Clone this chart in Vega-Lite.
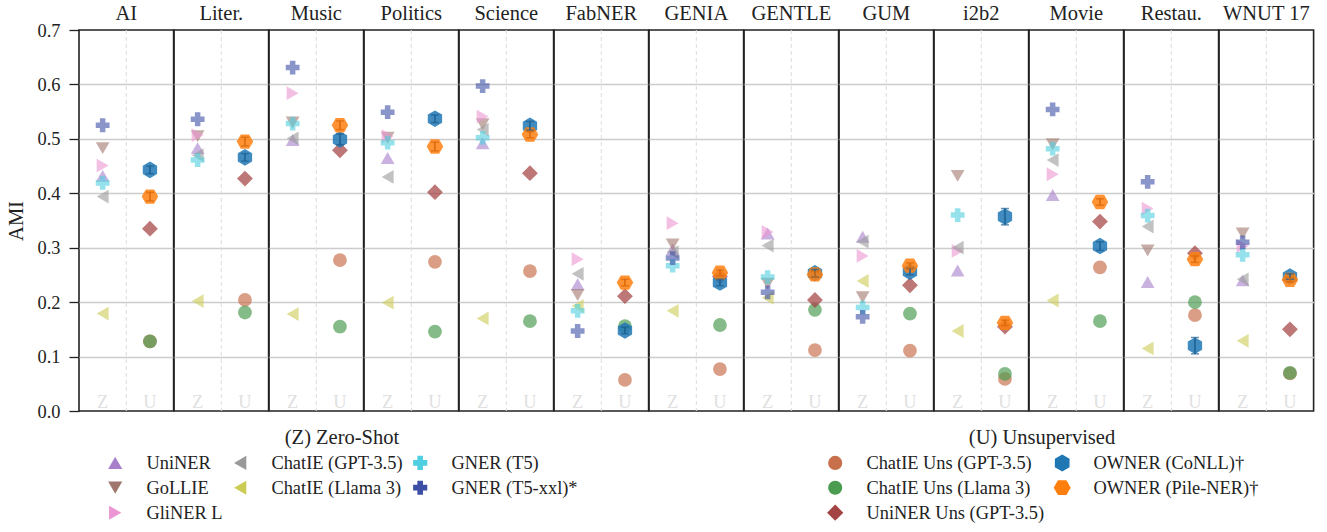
{
  "$schema": "https://vega.github.io/schema/vega-lite/v6.json",
  "padding": {"left": 6, "top": 3, "right": 5, "bottom": 2},
  "background": "white",
  "bounds": "flush",
  "data": {"values": [
    {"dataset":"AI","setting":"Z","model":"UniNER","ami":0.432},
    {"dataset":"AI","setting":"Z","model":"GoLLIE","ami":0.483},
    {"dataset":"AI","setting":"Z","model":"GliNER L","ami":0.451},
    {"dataset":"AI","setting":"Z","model":"ChatIE (GPT-3.5)","ami":0.394},
    {"dataset":"AI","setting":"Z","model":"ChatIE (Llama 3)","ami":0.179},
    {"dataset":"AI","setting":"Z","model":"GNER (T5)","ami":0.419},
    {"dataset":"AI","setting":"Z","model":"GNER (T5-xxl)*","ami":0.525},
    {"dataset":"AI","setting":"U","model":"ChatIE Uns (GPT-3.5)","ami":0.128},
    {"dataset":"AI","setting":"U","model":"ChatIE Uns (Llama 3)","ami":0.128},
    {"dataset":"AI","setting":"U","model":"UniNER Uns (GPT-3.5)","ami":0.335},
    {"dataset":"AI","setting":"U","model":"OWNER (CoNLL)†","ami":0.443,"lo":0.436,"hi":0.450},
    {"dataset":"AI","setting":"U","model":"OWNER (Pile-NER)†","ami":0.394,"lo":0.386,"hi":0.402},

    {"dataset":"Liter.","setting":"Z","model":"UniNER","ami":0.483},
    {"dataset":"Liter.","setting":"Z","model":"GoLLIE","ami":0.505},
    {"dataset":"Liter.","setting":"Z","model":"GliNER L","ami":0.507},
    {"dataset":"Liter.","setting":"Z","model":"ChatIE (GPT-3.5)","ami":0.470},
    {"dataset":"Liter.","setting":"Z","model":"ChatIE (Llama 3)","ami":0.202},
    {"dataset":"Liter.","setting":"Z","model":"GNER (T5)","ami":0.461},
    {"dataset":"Liter.","setting":"Z","model":"GNER (T5-xxl)*","ami":0.536},
    {"dataset":"Liter.","setting":"U","model":"ChatIE Uns (GPT-3.5)","ami":0.204},
    {"dataset":"Liter.","setting":"U","model":"ChatIE Uns (Llama 3)","ami":0.181},
    {"dataset":"Liter.","setting":"U","model":"UniNER Uns (GPT-3.5)","ami":0.427},
    {"dataset":"Liter.","setting":"U","model":"OWNER (CoNLL)†","ami":0.466,"lo":0.459,"hi":0.473},
    {"dataset":"Liter.","setting":"U","model":"OWNER (Pile-NER)†","ami":0.495,"lo":0.487,"hi":0.503},

    {"dataset":"Music","setting":"Z","model":"UniNER","ami":0.498},
    {"dataset":"Music","setting":"Z","model":"GoLLIE","ami":0.530},
    {"dataset":"Music","setting":"Z","model":"GliNER L","ami":0.584},
    {"dataset":"Music","setting":"Z","model":"ChatIE (GPT-3.5)","ami":0.501},
    {"dataset":"Music","setting":"Z","model":"ChatIE (Llama 3)","ami":0.178},
    {"dataset":"Music","setting":"Z","model":"GNER (T5)","ami":0.528},
    {"dataset":"Music","setting":"Z","model":"GNER (T5-xxl)*","ami":0.631},
    {"dataset":"Music","setting":"U","model":"ChatIE Uns (GPT-3.5)","ami":0.277},
    {"dataset":"Music","setting":"U","model":"ChatIE Uns (Llama 3)","ami":0.155},
    {"dataset":"Music","setting":"U","model":"UniNER Uns (GPT-3.5)","ami":0.479},
    {"dataset":"Music","setting":"U","model":"OWNER (CoNLL)†","ami":0.499,"lo":0.489,"hi":0.509},
    {"dataset":"Music","setting":"U","model":"OWNER (Pile-NER)†","ami":0.525,"lo":0.517,"hi":0.533},

    {"dataset":"Politics","setting":"Z","model":"UniNER","ami":0.465},
    {"dataset":"Politics","setting":"Z","model":"GoLLIE","ami":0.502},
    {"dataset":"Politics","setting":"Z","model":"GliNER L","ami":0.505},
    {"dataset":"Politics","setting":"Z","model":"ChatIE (GPT-3.5)","ami":0.430},
    {"dataset":"Politics","setting":"Z","model":"ChatIE (Llama 3)","ami":0.199},
    {"dataset":"Politics","setting":"Z","model":"GNER (T5)","ami":0.493},
    {"dataset":"Politics","setting":"Z","model":"GNER (T5-xxl)*","ami":0.549},
    {"dataset":"Politics","setting":"U","model":"ChatIE Uns (GPT-3.5)","ami":0.274},
    {"dataset":"Politics","setting":"U","model":"ChatIE Uns (Llama 3)","ami":0.146},
    {"dataset":"Politics","setting":"U","model":"UniNER Uns (GPT-3.5)","ami":0.402},
    {"dataset":"Politics","setting":"U","model":"OWNER (CoNLL)†","ami":0.537,"lo":0.530,"hi":0.544},
    {"dataset":"Politics","setting":"U","model":"OWNER (Pile-NER)†","ami":0.486,"lo":0.478,"hi":0.494},

    {"dataset":"Science","setting":"Z","model":"UniNER","ami":0.492},
    {"dataset":"Science","setting":"Z","model":"GoLLIE","ami":0.527},
    {"dataset":"Science","setting":"Z","model":"GliNER L","ami":0.541},
    {"dataset":"Science","setting":"Z","model":"ChatIE (GPT-3.5)","ami":0.517},
    {"dataset":"Science","setting":"Z","model":"ChatIE (Llama 3)","ami":0.170},
    {"dataset":"Science","setting":"Z","model":"GNER (T5)","ami":0.502},
    {"dataset":"Science","setting":"Z","model":"GNER (T5-xxl)*","ami":0.597},
    {"dataset":"Science","setting":"U","model":"ChatIE Uns (GPT-3.5)","ami":0.257},
    {"dataset":"Science","setting":"U","model":"ChatIE Uns (Llama 3)","ami":0.165},
    {"dataset":"Science","setting":"U","model":"UniNER Uns (GPT-3.5)","ami":0.437},
    {"dataset":"Science","setting":"U","model":"OWNER (CoNLL)†","ami":0.524,"lo":0.516,"hi":0.532},
    {"dataset":"Science","setting":"U","model":"OWNER (Pile-NER)†","ami":0.508,"lo":0.502,"hi":0.514},

    {"dataset":"FabNER","setting":"Z","model":"UniNER","ami":0.233},
    {"dataset":"FabNER","setting":"Z","model":"GoLLIE","ami":0.213},
    {"dataset":"FabNER","setting":"Z","model":"GliNER L","ami":0.279},
    {"dataset":"FabNER","setting":"Z","model":"ChatIE (GPT-3.5)","ami":0.252},
    {"dataset":"FabNER","setting":"Z","model":"ChatIE (Llama 3)","ami":0.193},
    {"dataset":"FabNER","setting":"Z","model":"GNER (T5)","ami":0.184},
    {"dataset":"FabNER","setting":"Z","model":"GNER (T5-xxl)*","ami":0.147},
    {"dataset":"FabNER","setting":"U","model":"ChatIE Uns (GPT-3.5)","ami":0.057},
    {"dataset":"FabNER","setting":"U","model":"ChatIE Uns (Llama 3)","ami":0.156},
    {"dataset":"FabNER","setting":"U","model":"UniNER Uns (GPT-3.5)","ami":0.211},
    {"dataset":"FabNER","setting":"U","model":"OWNER (CoNLL)†","ami":0.148,"lo":0.142,"hi":0.154},
    {"dataset":"FabNER","setting":"U","model":"OWNER (Pile-NER)†","ami":0.236,"lo":0.230,"hi":0.242},

    {"dataset":"GENIA","setting":"Z","model":"UniNER","ami":0.297},
    {"dataset":"GENIA","setting":"Z","model":"GoLLIE","ami":0.306},
    {"dataset":"GENIA","setting":"Z","model":"GliNER L","ami":0.345},
    {"dataset":"GENIA","setting":"Z","model":"ChatIE (GPT-3.5)","ami":0.292},
    {"dataset":"GENIA","setting":"Z","model":"ChatIE (Llama 3)","ami":0.184},
    {"dataset":"GENIA","setting":"Z","model":"GNER (T5)","ami":0.267},
    {"dataset":"GENIA","setting":"Z","model":"GNER (T5-xxl)*","ami":0.281},
    {"dataset":"GENIA","setting":"U","model":"ChatIE Uns (GPT-3.5)","ami":0.077},
    {"dataset":"GENIA","setting":"U","model":"ChatIE Uns (Llama 3)","ami":0.158},
    {"dataset":"GENIA","setting":"U","model":"UniNER Uns (GPT-3.5)","ami":0.247},
    {"dataset":"GENIA","setting":"U","model":"OWNER (CoNLL)†","ami":0.236,"lo":0.230,"hi":0.242},
    {"dataset":"GENIA","setting":"U","model":"OWNER (Pile-NER)†","ami":0.254,"lo":0.249,"hi":0.259},

    {"dataset":"GENTLE","setting":"Z","model":"UniNER","ami":0.326},
    {"dataset":"GENTLE","setting":"Z","model":"GoLLIE","ami":0.234},
    {"dataset":"GENTLE","setting":"Z","model":"GliNER L","ami":0.329},
    {"dataset":"GENTLE","setting":"Z","model":"ChatIE (GPT-3.5)","ami":0.304},
    {"dataset":"GENTLE","setting":"Z","model":"ChatIE (Llama 3)","ami":0.208},
    {"dataset":"GENTLE","setting":"Z","model":"GNER (T5)","ami":0.246},
    {"dataset":"GENTLE","setting":"Z","model":"GNER (T5-xxl)*","ami":0.218},
    {"dataset":"GENTLE","setting":"U","model":"ChatIE Uns (GPT-3.5)","ami":0.112},
    {"dataset":"GENTLE","setting":"U","model":"ChatIE Uns (Llama 3)","ami":0.186},
    {"dataset":"GENTLE","setting":"U","model":"UniNER Uns (GPT-3.5)","ami":0.204},
    {"dataset":"GENTLE","setting":"U","model":"OWNER (CoNLL)†","ami":0.253,"lo":0.246,"hi":0.260},
    {"dataset":"GENTLE","setting":"U","model":"OWNER (Pile-NER)†","ami":0.251,"lo":0.246,"hi":0.256},

    {"dataset":"GUM","setting":"Z","model":"UniNER","ami":0.320},
    {"dataset":"GUM","setting":"Z","model":"GoLLIE","ami":0.209},
    {"dataset":"GUM","setting":"Z","model":"GliNER L","ami":0.285},
    {"dataset":"GUM","setting":"Z","model":"ChatIE (GPT-3.5)","ami":0.311},
    {"dataset":"GUM","setting":"Z","model":"ChatIE (Llama 3)","ami":0.239},
    {"dataset":"GUM","setting":"Z","model":"GNER (T5)","ami":0.190},
    {"dataset":"GUM","setting":"Z","model":"GNER (T5-xxl)*","ami":0.173},
    {"dataset":"GUM","setting":"U","model":"ChatIE Uns (GPT-3.5)","ami":0.111},
    {"dataset":"GUM","setting":"U","model":"ChatIE Uns (Llama 3)","ami":0.179},
    {"dataset":"GUM","setting":"U","model":"UniNER Uns (GPT-3.5)","ami":0.231},
    {"dataset":"GUM","setting":"U","model":"OWNER (CoNLL)†","ami":0.256,"lo":0.250,"hi":0.262},
    {"dataset":"GUM","setting":"U","model":"OWNER (Pile-NER)†","ami":0.267,"lo":0.262,"hi":0.272},

    {"dataset":"i2b2","setting":"Z","model":"UniNER","ami":0.258},
    {"dataset":"i2b2","setting":"Z","model":"GoLLIE","ami":0.432},
    {"dataset":"i2b2","setting":"Z","model":"GliNER L","ami":0.294},
    {"dataset":"i2b2","setting":"Z","model":"ChatIE (GPT-3.5)","ami":0.300},
    {"dataset":"i2b2","setting":"Z","model":"ChatIE (Llama 3)","ami":0.147},
    {"dataset":"i2b2","setting":"Z","model":"GNER (T5)","ami":0.360},
    {"dataset":"i2b2","setting":"U","model":"ChatIE Uns (GPT-3.5)","ami":0.059},
    {"dataset":"i2b2","setting":"U","model":"ChatIE Uns (Llama 3)","ami":0.068},
    {"dataset":"i2b2","setting":"U","model":"UniNER Uns (GPT-3.5)","ami":0.155},
    {"dataset":"i2b2","setting":"U","model":"OWNER (CoNLL)†","ami":0.357,"lo":0.342,"hi":0.372},
    {"dataset":"i2b2","setting":"U","model":"OWNER (Pile-NER)†","ami":0.162,"lo":0.157,"hi":0.167},

    {"dataset":"Movie","setting":"Z","model":"UniNER","ami":0.397},
    {"dataset":"Movie","setting":"Z","model":"GoLLIE","ami":0.490},
    {"dataset":"Movie","setting":"Z","model":"GliNER L","ami":0.435},
    {"dataset":"Movie","setting":"Z","model":"ChatIE (GPT-3.5)","ami":0.461},
    {"dataset":"Movie","setting":"Z","model":"ChatIE (Llama 3)","ami":0.203},
    {"dataset":"Movie","setting":"Z","model":"GNER (T5)","ami":0.482},
    {"dataset":"Movie","setting":"Z","model":"GNER (T5-xxl)*","ami":0.554},
    {"dataset":"Movie","setting":"U","model":"ChatIE Uns (GPT-3.5)","ami":0.264},
    {"dataset":"Movie","setting":"U","model":"ChatIE Uns (Llama 3)","ami":0.165},
    {"dataset":"Movie","setting":"U","model":"UniNER Uns (GPT-3.5)","ami":0.348},
    {"dataset":"Movie","setting":"U","model":"OWNER (CoNLL)†","ami":0.303,"lo":0.295,"hi":0.311},
    {"dataset":"Movie","setting":"U","model":"OWNER (Pile-NER)†","ami":0.384,"lo":0.378,"hi":0.390},

    {"dataset":"Restau.","setting":"Z","model":"UniNER","ami":0.237},
    {"dataset":"Restau.","setting":"Z","model":"GoLLIE","ami":0.295},
    {"dataset":"Restau.","setting":"Z","model":"GliNER L","ami":0.372},
    {"dataset":"Restau.","setting":"Z","model":"ChatIE (GPT-3.5)","ami":0.339},
    {"dataset":"Restau.","setting":"Z","model":"ChatIE (Llama 3)","ami":0.115},
    {"dataset":"Restau.","setting":"Z","model":"GNER (T5)","ami":0.359},
    {"dataset":"Restau.","setting":"Z","model":"GNER (T5-xxl)*","ami":0.421},
    {"dataset":"Restau.","setting":"U","model":"ChatIE Uns (GPT-3.5)","ami":0.176},
    {"dataset":"Restau.","setting":"U","model":"ChatIE Uns (Llama 3)","ami":0.200},
    {"dataset":"Restau.","setting":"U","model":"UniNER Uns (GPT-3.5)","ami":0.290},
    {"dataset":"Restau.","setting":"U","model":"OWNER (CoNLL)†","ami":0.120,"lo":0.105,"hi":0.135},
    {"dataset":"Restau.","setting":"U","model":"OWNER (Pile-NER)†","ami":0.279,"lo":0.273,"hi":0.285},

    {"dataset":"WNUT 17","setting":"Z","model":"UniNER","ami":0.240},
    {"dataset":"WNUT 17","setting":"Z","model":"GoLLIE","ami":0.326},
    {"dataset":"WNUT 17","setting":"Z","model":"GliNER L","ami":0.303},
    {"dataset":"WNUT 17","setting":"Z","model":"ChatIE (GPT-3.5)","ami":0.242},
    {"dataset":"WNUT 17","setting":"Z","model":"ChatIE (Llama 3)","ami":0.129},
    {"dataset":"WNUT 17","setting":"Z","model":"GNER (T5)","ami":0.287},
    {"dataset":"WNUT 17","setting":"Z","model":"GNER (T5-xxl)*","ami":0.310},
    {"dataset":"WNUT 17","setting":"U","model":"ChatIE Uns (GPT-3.5)","ami":0.069},
    {"dataset":"WNUT 17","setting":"U","model":"ChatIE Uns (Llama 3)","ami":0.070},
    {"dataset":"WNUT 17","setting":"U","model":"UniNER Uns (GPT-3.5)","ami":0.150},
    {"dataset":"WNUT 17","setting":"U","model":"OWNER (CoNLL)†","ami":0.247,"lo":0.242,"hi":0.252},
    {"dataset":"WNUT 17","setting":"U","model":"OWNER (Pile-NER)†","ami":0.241,"lo":0.237,"hi":0.245}
  ]},
  "facet": {
    "column": {
      "field": "dataset",
      "type": "nominal",
      "sort": ["AI","Liter.","Music","Politics","Science","FabNER","GENIA","GENTLE","GUM","i2b2","Movie","Restau.","WNUT 17"],
      "header": {"title": null, "labelFont": "Liberation Serif", "labelFontSize": 20.5, "labelColor": "#222222", "labelPadding": 6}
    }
  },
  "spacing": {"column": 0},
  "spec": {
    "width": 94.6,
    "height": 381,
    "layer": [
      {
        "transform": [{"filter": "datum.model === 'OWNER (CoNLL)†'"}],
        "mark": {"type": "rule", "strokeDash": [4, 3], "color": "#dddddd", "strokeWidth": 1},
        "encoding": {
          "x": {"field": "setting", "type": "nominal", "bandPosition": 0,
                "scale": {"type": "band", "domain": ["Z","U"], "paddingInner": 0, "paddingOuter": 0},
                "axis": {"title": null, "grid": false, "ticks": false, "tickSize": 0, "domain": false, "labelPadding": -19, "labelColor": "#e0e0e0", "labelFont": "Liberation Serif", "labelFontSize": 18.4, "labelAngle": 0}}
        }
      },
      {
        "transform": [{"filter": "datum.setting === 'Z'"}],
        "mark": {"type": "point", "filled": true, "size": 190, "opacity": 0.6, "strokeWidth": 0},
        "encoding": {
          "x": {"field": "setting", "type": "nominal", "scale": {"type": "band", "domain": ["Z","U"], "paddingInner": 0, "paddingOuter": 0}},
          "y": {"field": "ami", "type": "quantitative",
                "scale": {"domain": [0, 0.7], "nice": false, "zero": true},
                "axis": {"title": "AMI", "values": [0,0.1,0.2,0.3,0.4,0.5,0.6,0.7], "format": ".1f", "grid": true,
                         "gridColor": {"condition": {"test": "datum.value <= 0.001 || datum.value >= 0.699", "value": "transparent"}, "value": "#cccccc"},
                         "gridWidth": 1.5, "domain": false, "tickColor": "#222222", "tickSize": 10, "tickWidth": 1.3, "labelPadding": 9, "labelFont": "Liberation Serif", "labelFontSize": 18.4, "labelColor": "#222222", "titleFont": "Liberation Serif", "titleFontSize": 20.5, "titleFontWeight": "normal", "titleColor": "#222222", "titlePadding": 11}},
          "color": {"field": "model", "type": "nominal",
                    "scale": {"domain": ["UniNER","GoLLIE","GNER (T5-xxl)*","ChatIE (GPT-3.5)","ChatIE (Llama 3)","GliNER L","GNER (T5)"],
                              "range": ["#a77fcb","#a0776c","#3c4fa5","#999999","#cccc55","#eb96d2","#4fcfe0"]},
                    "legend": {"title": "(Z) Zero-Shot", "orient": "none", "legendX": 27, "legendY": 398, "columns": 3}},
          "shape": {"field": "model", "type": "nominal",
                    "scale": {"domain": ["UniNER","GoLLIE","GNER (T5-xxl)*","ChatIE (GPT-3.5)","ChatIE (Llama 3)","GliNER L","GNER (T5)"],
                              "range": ["triangle-up","triangle-down","cross","triangle-left","triangle-left","triangle-right","cross"]},
                    "legend": {"title": "(Z) Zero-Shot", "orient": "none", "legendX": 27, "legendY": 398, "columns": 3}}
        }
      },
      {
        "transform": [{"filter": "datum.model === 'ChatIE Uns (GPT-3.5)' || datum.model === 'ChatIE Uns (Llama 3)'"}],
        "mark": {"type": "point", "filled": true, "size": 190, "opacity": 0.68, "strokeWidth": 0, "shape": "circle"},
        "encoding": {
          "x": {"field": "setting", "type": "nominal", "scale": {"type": "band", "domain": ["Z","U"], "paddingInner": 0, "paddingOuter": 0}},
          "y": {"field": "ami", "type": "quantitative", "scale": {"domain": [0, 0.7], "nice": false}, "title": "AMI"},
          "fill": {"field": "model", "type": "nominal",
                   "scale": {"domain": ["ChatIE Uns (GPT-3.5)","ChatIE Uns (Llama 3)","UniNER Uns (GPT-3.5)","OWNER (CoNLL)†","OWNER (Pile-NER)†"],
                             "range": ["#c8704c","#4b9b50","#a44343","#1f77b4","#ff7f0e"]},
                   "legend": {"title": "(U) Unsupervised", "orient": "none", "legendX": 747, "legendY": 398, "columns": 2,
                              "encode": {"symbols": {"update": {"shape": {"signal": "datum.value === 'UniNER Uns (GPT-3.5)' ? 'M-1.15,0L0,-1.15L1.15,0L0,1.15Z' : (datum.value === 'OWNER (CoNLL)†' ? 'M0,-1.2L1.04,-0.6L1.04,0.6L0,1.2L-1.04,0.6L-1.04,-0.6Z' : (datum.value === 'OWNER (Pile-NER)†' ? 'M-1.2,0L-0.6,-1.04L0.6,-1.04L1.2,0L0.6,1.04L-0.6,1.04Z' : 'circle'))"}}}}}}
        }
      },
      {
        "transform": [{"filter": "datum.model === 'UniNER Uns (GPT-3.5)'"}],
        "mark": {"type": "point", "filled": true, "size": 190, "opacity": 0.72, "strokeWidth": 0, "shape": "M-1.15,0L0,-1.15L1.15,0L0,1.15Z"},
        "encoding": {
          "x": {"field": "setting", "type": "nominal", "scale": {"type": "band", "domain": ["Z","U"], "paddingInner": 0, "paddingOuter": 0}},
          "y": {"field": "ami", "type": "quantitative", "scale": {"domain": [0, 0.7], "nice": false}, "title": "AMI"},
          "fill": {"field": "model", "type": "nominal"}
        }
      },
      {
        "transform": [{"filter": "datum.model === 'OWNER (CoNLL)†'"}],
        "mark": {"type": "point", "filled": true, "size": 190, "opacity": 0.85, "strokeWidth": 0, "shape": "M0,-1.2L1.04,-0.6L1.04,0.6L0,1.2L-1.04,0.6L-1.04,-0.6Z"},
        "encoding": {
          "x": {"field": "setting", "type": "nominal", "scale": {"type": "band", "domain": ["Z","U"], "paddingInner": 0, "paddingOuter": 0}},
          "y": {"field": "ami", "type": "quantitative", "scale": {"domain": [0, 0.7], "nice": false}, "title": "AMI"},
          "fill": {"field": "model", "type": "nominal"}
        }
      },
      {
        "transform": [{"filter": "datum.model === 'OWNER (Pile-NER)†'"}],
        "mark": {"type": "point", "filled": true, "size": 190, "opacity": 0.85, "strokeWidth": 0, "shape": "M-1.2,0L-0.6,-1.04L0.6,-1.04L1.2,0L0.6,1.04L-0.6,1.04Z"},
        "encoding": {
          "x": {"field": "setting", "type": "nominal", "scale": {"type": "band", "domain": ["Z","U"], "paddingInner": 0, "paddingOuter": 0}},
          "y": {"field": "ami", "type": "quantitative", "scale": {"domain": [0, 0.7], "nice": false}, "title": "AMI"},
          "fill": {"field": "model", "type": "nominal"}
        }
      },
      {
        "transform": [{"filter": "datum.model === 'OWNER (CoNLL)†'"}],
        "mark": {"type": "errorbar", "color": "#1b5f91", "ticks": {"size": 8, "thickness": 1.5}, "thickness": 1.5},
        "encoding": {
          "x": {"field": "setting", "type": "nominal", "scale": {"type": "band", "domain": ["Z","U"], "paddingInner": 0, "paddingOuter": 0}},
          "y": {"field": "lo", "type": "quantitative", "scale": {"domain": [0, 0.7], "nice": false}, "title": "AMI"},
          "y2": {"field": "hi"}
        }
      },
      {
        "transform": [{"filter": "datum.model === 'OWNER (Pile-NER)†'"}],
        "mark": {"type": "errorbar", "color": "#d9680a", "ticks": {"size": 8, "thickness": 1.5}, "thickness": 1.5},
        "encoding": {
          "x": {"field": "setting", "type": "nominal", "scale": {"type": "band", "domain": ["Z","U"], "paddingInner": 0, "paddingOuter": 0}},
          "y": {"field": "lo", "type": "quantitative", "scale": {"domain": [0, 0.7], "nice": false}, "title": "AMI"},
          "y2": {"field": "hi"}
        }
      }
    ]
  },
  "config": {
    "font": "Liberation Serif",
    "view": {"stroke": "#222222", "strokeWidth": 1.6},
    "legend": {
      "labelFont": "Liberation Serif", "labelFontSize": 18.4, "labelColor": "#222222",
      "titleFont": "Liberation Serif", "titleFontSize": 20.5, "titleFontWeight": "normal", "titleColor": "#222222",
      "titleAnchor": "middle", "titlePadding": 5, "gridAlign": "each",
      "symbolSize": 200, "symbolOpacity": 1, "symbolStrokeWidth": 0,
      "labelOffset": 22, "rowPadding": 6, "columnPadding": 8, "padding": 0, "labelLimit": 300
    }
  }
}
